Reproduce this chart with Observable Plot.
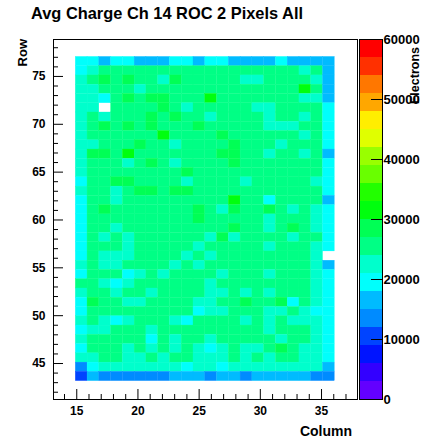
<!DOCTYPE html>
<html><head><meta charset="utf-8">
<script src="https://cdn.jsdelivr.net/npm/d3@7"></script>
<script src="https://cdn.jsdelivr.net/npm/@observablehq/plot@0.6"></script>
<style>
body{margin:0;background:#fff;}
#wrap{position:relative;width:423px;height:438px;overflow:hidden;}
#wrap svg{position:absolute;top:0;}
</style></head><body><div id="wrap"></div>
<script>
// ---- labels ----
const titleText = "Avg Charge Ch 14 ROC 2 Pixels All";
const xTitle = "Column", yTitle = "Row", zTitle = "Electrons";
// ---- axis ticks ----
const xTicks = [15, 20, 25, 30, 35];
const xMinor = [14,16,17,18,19,21,22,23,24,26,27,28,29,31,32,33,34,36,37];
const yTicks = [45, 50, 55, 60, 65, 70, 75];
const yMinor = [42,43,44,46,47,48,49,51,52,53,54,56,57,58,59,61,62,63,64,66,67,68,69,71,72,73,74,76,77,78];
const zTicks = [0, 10000, 20000, 30000, 40000, 50000, 60000];
const zRange = [0, 60000], nContours = 20;
const xDomain = [13.1, 37.94], yDomain = [41.24, 78.86];
// ---- histogram binning (bin edges of the first shown pixel, bin widths) ----
const xEdge0 = 14.92, colWidth = 0.962;
const yEdge0 = 43.16, rowHeight = 0.968;
// ---- average charge per pixel, in thousands of electrons (0 = empty); rows listed top to bottom ----
const r34 = [20,20,17,20,20,17,17,17,20,20,17,20,20,17,17,17,17,20,17,17,17,17];
const r33 = [20,23,26,26,26,26,26,26,26,26,26,26,26,26,26,26,26,26,26,23,26,17];
const r32 = [23,26,29,26,29,26,26,23,29,26,26,26,26,26,23,23,26,26,26,26,23,17];
const r31 = [23,23,26,26,26,23,26,26,26,26,26,26,26,26,26,26,26,26,26,32,26,17];
const r30 = [23,23,20,26,29,26,29,29,26,26,26,32,26,26,26,26,26,26,26,23,23,17];
const r29 = [23,23,0,26,26,26,26,29,26,23,26,26,26,26,26,23,23,26,26,26,26,20];
const r28 = [23,26,23,26,26,26,29,26,29,26,26,23,26,26,26,26,23,26,26,23,26,20];
const r27 = [23,26,29,26,29,26,29,26,26,26,29,26,26,26,26,26,23,23,23,26,26,20];
const r26 = [23,26,26,26,26,26,26,32,26,26,26,26,29,26,26,26,26,26,26,23,26,20];
const r25 = [23,23,26,26,26,29,26,26,23,26,26,26,26,29,26,26,26,23,26,26,26,20];
const r24 = [23,29,29,26,32,26,26,26,26,26,26,26,29,29,26,26,23,26,26,23,26,17];
const r23 = [23,26,26,26,23,26,29,26,23,26,26,26,26,29,26,26,26,26,26,26,26,20];
const r22 = [23,26,26,26,26,26,26,26,26,29,26,26,26,26,26,26,26,26,26,26,26,20];
const r21 = [20,26,26,29,29,26,26,26,26,23,26,26,26,26,23,26,26,26,26,26,23,20];
const r20 = [23,26,26,23,26,29,29,26,29,29,26,26,26,26,26,26,26,26,26,26,26,20];
const r19 = [20,26,26,23,26,26,26,26,26,26,26,26,26,32,26,26,20,26,26,26,26,17];
const r18 = [20,26,29,26,26,26,26,26,26,26,29,26,23,29,26,26,29,26,23,26,23,20];
const r17 = [20,26,26,26,26,26,26,26,26,26,29,26,26,26,26,26,23,26,26,26,23,20];
const r16 = [20,26,26,23,26,26,26,26,26,26,26,26,26,29,26,26,23,26,29,26,23,20];
const r15 = [20,26,23,26,23,26,26,26,26,26,26,23,29,23,26,26,26,26,23,26,26,20];
const r14 = [20,26,26,26,23,26,26,26,26,26,23,26,26,26,26,26,23,26,26,26,23,20];
const r13 = [20,26,23,23,23,26,26,26,26,23,26,23,26,26,26,26,26,26,26,26,23,0];
const r12 = [23,26,23,23,26,26,26,26,23,26,23,26,26,26,26,26,26,26,26,26,23,17];
const r11 = [20,26,26,26,20,23,26,23,26,26,26,26,23,26,26,26,23,26,26,26,23,20];
const r10 = [26,26,23,20,23,26,26,26,26,26,26,23,26,26,26,26,26,26,26,26,23,20];
const r09 = [23,26,26,23,26,26,23,26,26,26,26,23,23,26,23,26,23,26,26,26,23,20];
const r08 = [20,29,26,26,23,23,26,26,26,26,23,23,26,26,29,26,26,29,20,26,23,20];
const r07 = [20,26,26,26,26,26,26,26,26,26,20,23,23,26,26,26,23,23,26,23,20,20];
const r06 = [23,26,23,20,23,26,26,26,23,20,26,26,26,26,23,26,23,26,23,23,23,20];
const r05 = [20,23,23,26,26,26,23,26,26,26,26,26,26,26,26,26,23,26,26,26,23,20];
const r04 = [23,26,26,26,26,26,20,26,23,26,26,23,26,26,26,26,26,23,26,26,23,20];
const r03 = [20,26,26,26,23,26,23,26,23,26,23,20,23,26,23,23,26,29,26,23,23,20];
const r02 = [23,23,26,26,23,23,26,23,26,26,23,23,23,26,23,26,23,26,26,23,23,20];
const r01 = [14,20,23,23,23,23,23,23,23,20,23,23,20,23,23,23,23,23,23,23,23,17];
const r00 = [11,17,14,14,14,14,14,14,17,17,17,14,17,17,14,17,17,17,17,17,14,14];
const rowsTopToBottom = [r34,r33,r32,r31,r30,r29,r28,r27,r26,r25,r24,r23,r22,r21,r20,r19,r18,r17,r16,r15,r14,r13,r12,r11,r10,r09,r08,r07,r06,r05,r04,r03,r02,r01,r00];

// ---- build cells ----
const nRows = rowsTopToBottom.length;
const cells = [];
rowsTopToBottom.forEach((vals, j) => {
  const k = nRows - 1 - j;
  vals.forEach((v, i) => {
    if (v > 0) cells.push({
      x1: xEdge0 + i * colWidth, x2: xEdge0 + (i + 1) * colWidth,
      y1: yEdge0 + k * rowHeight, y2: yEdge0 + (k + 1) * rowHeight,
      charge: v * 1000
    });
  });
});

// ---- ROOT "pretty" palette (50 hues violet->red), 20 contour levels ----
const step = (zRange[1] - zRange[0]) / nContours;
const palette = d3.range(nContours).map(c => {
  const idx = Math.floor((c + 0.99) * 50 / nContours);
  const hue = 280 - (idx + 1) * (280 / 50);
  return d3.hsl(hue, 1, 0.5).formatHex();
});
const thresholds = d3.range(1, nContours).map(c => zRange[0] + c * step);
const colorScale = {type: "threshold", domain: thresholds, range: palette};
const bands = d3.range(nContours).map(c => ({lo: zRange[0] + c * step, hi: zRange[0] + (c + 1) * step, mid: zRange[0] + (c + 0.5) * step}));

const FONT = "'Liberation Sans', Arial, Helvetica, sans-serif";
const wrap = document.getElementById("wrap");

const main = Plot.plot({
  width: 423, height: 438,
  marginLeft: 53, marginRight: 66, marginTop: 39, marginBottom: 39,
  x: {domain: xDomain},
  y: {domain: yDomain},
  color: colorScale,
  style: {fontFamily: FONT, fontWeight: "bold", fontSize: "12px", color: "#000", background: "transparent", overflow: "visible"},
  marks: [
    Plot.rect(cells, {x1: "x1", x2: "x2", y1: "y1", y2: "y2", fill: "charge", stroke: "charge", strokeWidth: 0.3}),
    Plot.axisX(xTicks, {anchor: "bottom", tickSize: -10, tickFormat: () => ""}),
    Plot.axisX(xMinor, {anchor: "bottom", tickSize: -5, tickFormat: () => ""}),
    Plot.axisX(xTicks, {anchor: "bottom", tickSize: 0, tickPadding: 7, fontSize: 12, fontWeight: "bold"}),
    Plot.axisY(yTicks, {anchor: "left", tickSize: -10, tickFormat: () => ""}),
    Plot.axisY(yMinor, {anchor: "left", tickSize: -5, tickFormat: () => ""}),
    Plot.axisY(yTicks, {anchor: "left", tickSize: 0, tickPadding: 8, fontSize: 12, fontWeight: "bold"}),
    Plot.frame({stroke: "#000"})
  ]
});
main.style.left = "0px";
wrap.appendChild(main);

const bar = Plot.plot({
  width: 64, height: 438,
  marginLeft: 0, marginRight: 41, marginTop: 39, marginBottom: 39,
  y: {domain: zRange},
  color: colorScale,
  style: {fontFamily: FONT, fontWeight: "bold", fontSize: "13px", color: "#000", background: "transparent", overflow: "visible"},
  marks: [
    Plot.rect(bands, {y1: "lo", y2: "hi", fill: "mid"}),
    Plot.axisY(zTicks, {anchor: "right", tickSize: -12, tickFormat: () => ""}),
    Plot.axisY(zTicks, {anchor: "right", tickSize: 0, tickPadding: 1, textAnchor: "start", fontSize: 13, fontWeight: "bold", tickFormat: d3.format("d")}),
    Plot.frame({stroke: "#000"})
  ]
});
bar.style.left = "359px";
wrap.appendChild(bar);

// ---- titles (text overlay) ----
const svg = d3.select(wrap).append("svg")
  .attr("width", 423).attr("height", 438)
  .style("left", "0px").style("pointer-events", "none")
  .attr("font-family", FONT).attr("font-weight", "bold").attr("fill", "#000");
svg.append("text").attr("x", 31).attr("y", 19).attr("font-size", 16.4).text(titleText);
svg.append("text").attr("x", 352).attr("y", 436).attr("font-size", 14).attr("text-anchor", "end").text(xTitle);
svg.append("text").attr("transform", "translate(27,39) rotate(-90)").attr("font-size", 13).attr("text-anchor", "end").text(yTitle);
svg.append("text").attr("transform", "translate(419,47) rotate(-90)").attr("font-size", 12.5).attr("text-anchor", "end").text(zTitle);
</script></body></html>
